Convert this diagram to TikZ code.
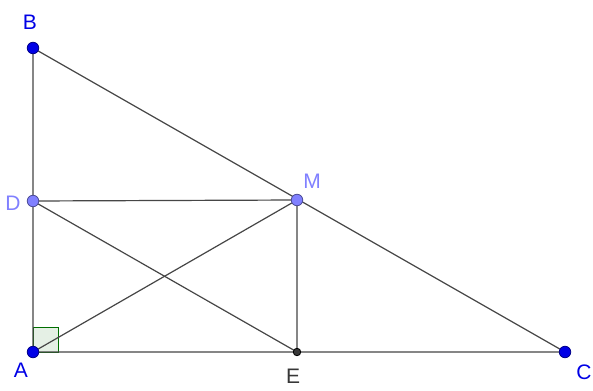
\documentclass[tikz,border=0pt]{standalone}
\usepackage{fontspec}
\setmainfont{Liberation Sans}
\usetikzlibrary{positioning}
\definecolor{ptBleu}{RGB}{0,0,230}
\definecolor{ptClair}{RGB}{128,128,255}
\definecolor{ptGris}{RGB}{55,55,55}
\definecolor{trait}{RGB}{70,70,70}
\definecolor{angleV}{RGB}{0,110,0}
\tikzset{
  seg/.style={draw=trait, line width=1.2pt},
  pt/.style={circle, inner sep=0pt, minimum size=#1, line width=0.8pt},
  ptfort/.style={pt=11.5pt, fill=ptBleu, draw=ptBleu!60!black},
  ptmilieu/.style={pt=11.5pt, fill=ptClair, draw=ptClair!60!black},
  ptpied/.style={pt=7.5pt, fill=ptGris, draw=black},
  nom/.style={font=\fontsize{21}{25}\selectfont, inner sep=0pt, text=#1},
}
\begin{document}
\begin{tikzpicture}[x=1pt, y=-1pt]
  \useasboundingbox[fill=white] (0,0) rectangle (593,390);
  % sommets
  \coordinate (A) at (33,352);
  \coordinate (B) at (33,48);
  \coordinate (C) at (565,352);
  \coordinate (M) at (297,200);
  \coordinate (D) at (33,201);
  \coordinate (E) at (297,352);
  % angle droit en A
  \draw[draw=angleV, fill=angleV!10, line width=0.8pt] (A) rectangle ++(25,-25);
  \draw[seg] (A) -- (B) -- (C) -- cycle;
  \draw[seg] (D) -- (M) -- (E);
  \draw[seg] (D) -- (E);
  \draw[seg] (A) -- (M);
  % points
  \node[ptfort] (pA) at (A) {};
  \node[ptfort] (pB) at (B) {};
  \node[ptfort] (pC) at (C) {};
  \node[ptmilieu] (pD) at (D) {};
  \node[ptmilieu] (pM) at (M) {};
  \node[ptpied] (pE) at (E) {};
  % noms
  \node[nom=ptBleu] (lA) at (21,370) {A};
  \node[nom=ptBleu] (lB) at (30,22) {B};
  \node[nom=ptBleu] (lC) at (584,372) {C};
  \node[nom=ptClair] (lD) at (13,203) {D};
  \node[nom=ptClair] (lM) at (312,181) {M};
  \node[nom=ptGris] (lE) at (293,376) {E};
\end{tikzpicture}
\end{document}
